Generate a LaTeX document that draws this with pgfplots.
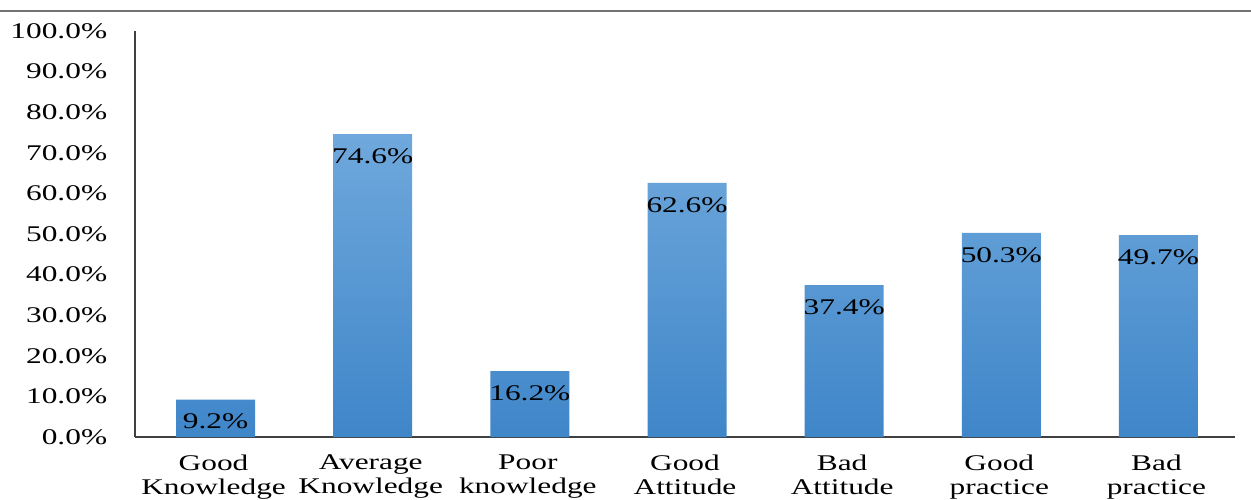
\documentclass[border=0pt]{standalone}
\usepackage{fontspec}
\setmainfont{Liberation Serif}[FakeStretch=1.4]
\usepackage{pgfplots}
\pgfplotsset{compat=1.18}
\definecolor{bartop}{HTML}{6FA8DC}
\definecolor{barbot}{HTML}{3F86C9}
\newcommand{\lblfont}{\fontsize{11.2pt}{12pt}\selectfont}
\begin{document}
\lblfont
\begin{tikzpicture}
\begin{axis}[
  name=ax,
  scale only axis,
  width=550pt, height=203pt,
  ymin=0, ymax=100,
  xmin=-0.5, xmax=6.5,
  ybar, bar width=39.5pt,
  axis x line=bottom, axis y line=left,
  axis line style={black!75, line width=0.75pt, -},
  ytick={0,10,...,100},
  xtick={0,1,2,3,4,5,6},
  major tick length=0pt,
  /pgf/number format/assume math mode=true,
  yticklabel={\pgfmathprintnumber[fixed,fixed zerofill,precision=1]{\tick}\%},
  yticklabel style={xshift=-10pt, font=\lblfont},
  xticklabels={{Good\\Knowledge},{Average\\Knowledge},{Poor\\knowledge},{Good\\Attitude},{Bad\\Attitude},{Good\\practice},{Bad\\practice}},
  xticklabel style={align=center, yshift=-5pt, font=\lblfont},
  nodes near coords={\pgfmathprintnumber[fixed,fixed zerofill,precision=1]{\pgfplotspointmeta}\%},
  nodes near coords style={anchor=center, yshift=-11pt, font=\lblfont, text=black},
  clip=false,
]
\addplot[draw=none, top color=bartop, bottom color=barbot, bar shift=1pt] coordinates {
  (0,9.2) (1,74.6) (2,16.2) (3,62.6) (4,37.4) (5,50.3) (6,49.7)
};
\end{axis}
\draw[black!55, line width=1.1pt] ([xshift=-67.5pt,yshift=10pt]ax.north west) -- ([xshift=8pt,yshift=10pt]ax.north east);
\pgfresetboundingbox
\path[use as bounding box] ([xshift=-67.5pt,yshift=-31pt]ax.south west) rectangle ([xshift=8pt,yshift=15.5pt]ax.north east);
\end{tikzpicture}
\end{document}
